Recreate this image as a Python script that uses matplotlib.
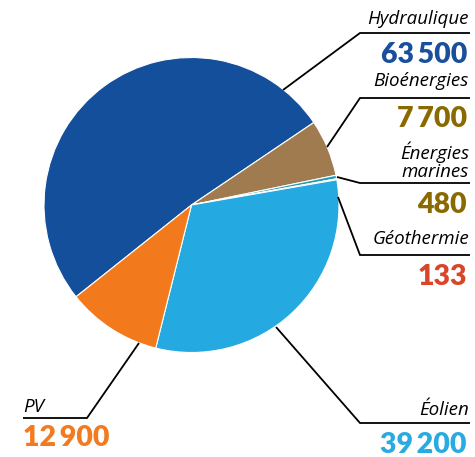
import matplotlib
matplotlib.use("Agg")
import matplotlib.pyplot as plt

categories = ["Hydraulique", "Bioénergies", "Énergies\nmarines", "Géothermie", "Éolien", "PV"]
values = [63500, 7700, 480, 133, 39200, 12900]
value_labels = ["63\u2009500", "7\u2009700", "480", "133", "39\u2009200", "12\u2009900"]
wedge_colors = ["#134f9a", "#a07b50", "#1f9db3", "#e8623a", "#24a9e1", "#f3791d"]
text_colors = ["#1a4f9c", "#8a6a00", "#8a6a00", "#d9452b", "#29abe2", "#f47a20"]

W, H = 475, 457
fig = plt.figure(figsize=(W / 100, H / 100), dpi=100)
ax = fig.add_axes([0, 0, 1, 1])

def Y(y):
    return H - y

total = sum(values)
hydro_frac = values[0] / total
start = 34 + hydro_frac * 360
ax.pie(values, colors=wedge_colors, startangle=start, counterclock=False,
       center=(191.5, Y(205)), radius=147.5,
       wedgeprops=dict(edgecolor="white", linewidth=0.8))
ax.set_xlim(0, W)
ax.set_ylim(0, H)
ax.set_aspect("equal")
ax.axis("off")

lw = 1.3
# leader lines: (start point on pie, elbow, end)
leaders = [
    [(283, 90), (360, 33), (470, 33)],
    [(327, 147), (360, 98), (470, 98)],
    [(337, 177), (360, 183), (470, 183)],
    [(338, 197), (360, 255), (470, 255)],
    [(276, 327), (360, 423), (470, 423)],
    [(139, 343), (87, 418), (23, 418)],
]
for pts in leaders:
    ax.plot([p[0] for p in pts], [Y(p[1]) for p in pts], color="black", lw=lw,
            solid_capstyle="butt", solid_joinstyle="miter")

label_font = dict(family="Open Sans", style="italic", fontsize=13.5, color="black")
num_font = dict(family="Lato", weight="heavy", fontsize=20.5)

# label baselines and number baselines
label_pos = [(469, 24), (469, 86), (469, 177), (469, 244), (469, 415), (23, 412)]
num_pos = [(467, 63), (467, 127), (467, 213), (467, 285), (467, 453), (23, 446)]

for i, cat in enumerate(categories):
    x, y = label_pos[i]
    ha = "right" if x > 200 else "left"
    ax.text(x, Y(y), cat, ha=ha, va="baseline", linespacing=1.0,
            multialignment="right", **label_font)
    x, y = num_pos[i]
    ax.text(x, Y(y), value_labels[i], ha=ha, va="baseline", color=text_colors[i],
            **num_font)

fig.savefig("out.png", dpi=100)
